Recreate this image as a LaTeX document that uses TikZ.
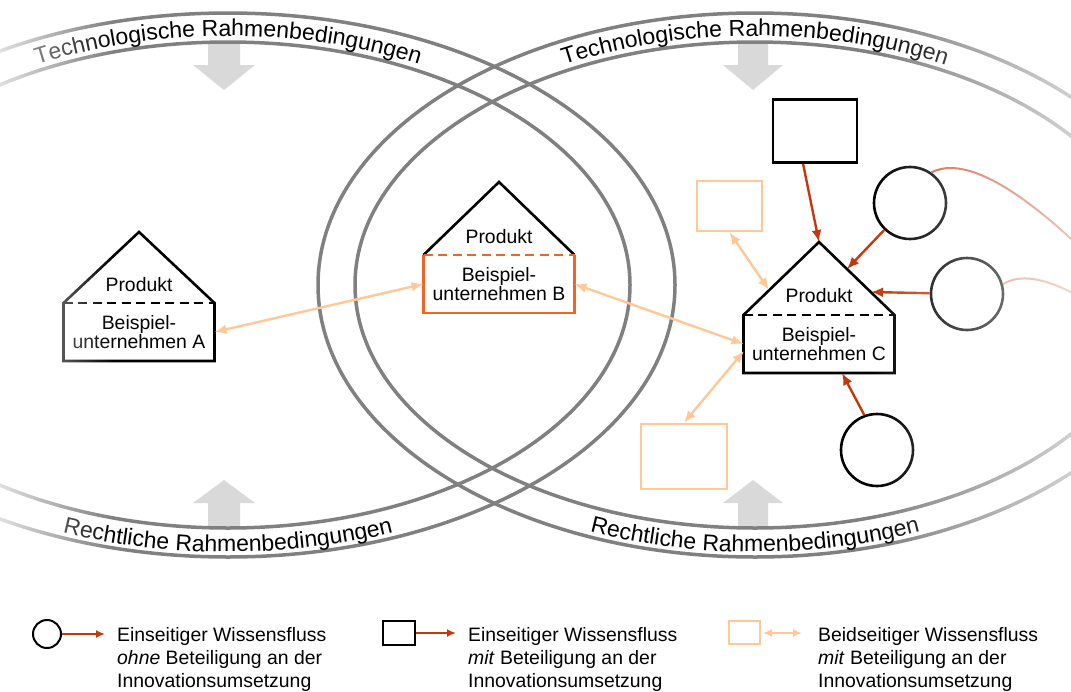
\documentclass[tikz,border=0pt]{standalone}
\usepackage{fontspec}
\setmainfont{Liberation Sans}
\usetikzlibrary{arrows.meta,decorations.text,fadings}
\definecolor{flowred}{RGB}{197,55,12}
\definecolor{lightorange}{RGB}{255,200,150}
\definecolor{firmorange}{RGB}{240,100,40}
\definecolor{bandgray}{RGB}{128,128,128}
\definecolor{blockgray}{RGB}{217,217,217}
\newcommand\bandfont{\fontsize{23}{28}\selectfont}
\newcommand\boxfont{\fontsize{19.4}{19.5}\selectfont}
\newcommand\legendfont{\fontsize{19.4}{23}\selectfont}
\tikzset{>={Latex[length=12pt,width=10pt]}}
\tikzset{
  bandline/.style={draw=bandgray,line width=3.5pt},
  bandtext/.style={decorate,decoration={text along path,text align=center,text={|\bandfont|#1}}},
  housewall/.style={line width=2.6pt,line cap=rect},
  housebody/.style={minimum width=151pt,minimum height=58pt,inner sep=0pt,outer sep=0pt,align=center,font=\boxfont},
  rooftext/.style={inner sep=0pt,font=\boxfont},
  knowbox/.style={draw,line width=2.6pt,minimum width=84pt,minimum height=63pt,inner sep=0pt},
  partnerbox/.style={draw=lightorange,line width=2.6pt,inner sep=0pt},
  source/.style={draw,circle,line width=2.6pt,minimum size=72pt,inner sep=0pt},
  legendtext/.style={anchor=west,align=left,inner sep=0pt,font=\legendfont}
}
\begin{document}
\begin{tikzpicture}[x=1pt,y=-1pt]
\useasboundingbox (0,0) rectangle (1071,691);

% grey arrows
\fill[blockgray] (208,41) -- (240,41) -- (240,65) -- (255,65) -- (224,90) -- (193,65) -- (208,65) -- cycle;
\fill[blockgray] (738,41) -- (768,41) -- (768,65) -- (783,65) -- (753,90) -- (723,65) -- (738,65) -- cycle;
\fill[blockgray] (208,528) -- (240,528) -- (240,503) -- (255,503) -- (224,480) -- (193,503) -- (208,503) -- cycle;
\fill[blockgray] (738,528) -- (768,528) -- (768,503) -- (783,503) -- (753,480) -- (723,503) -- (738,503) -- cycle;

% bands
\draw[bandline] (228,285) ellipse [x radius=447,y radius=272];
\draw[bandline] (228,285) ellipse [x radius=402,y radius=243];
\draw[bandline] (755,285) ellipse [x radius=437,y radius=272];
\draw[bandline] (755,285) ellipse [x radius=400,y radius=243];

\path[bandtext={Technologische Rahmenbedingungen}] (-183,285) arc[start angle=180,end angle=360,x radius=411,y radius=249];
\path[bandtext={Technologische Rahmenbedingungen}] (348,285) arc[start angle=180,end angle=360,x radius=407,y radius=249];
\path[bandtext={Rechtliche Rahmenbedingungen}] (-211,285) arc[start angle=180,end angle=0,x radius=439,y radius=267];
\path[bandtext={Rechtliche Rahmenbedingungen}] (324,285) arc[start angle=180,end angle=0,x radius=431,y radius=267];

% houses
\begin{scope}[every node/.style={housebody}]
\node (A) at (139,332) {Beispiel-\\unternehmen A};
\node (B) at (499,284) {Beispiel-\\unternehmen B};
\node (C) at (819,344) {Beispiel-\\unternehmen C};
\end{scope}
\coordinate (Atop) at (139,232);
\coordinate (Btop) at (499,182);
\coordinate (Ctop) at (819,242);
\node[rooftext] (Ap) at (139,285) {Produkt};
\node[rooftext] (Bp) at (499,237) {Produkt};
\node[rooftext] (Cp) at (819,296) {Produkt};

\draw[housewall] (A.south east) -- (A.north east) -- (Atop) -- (A.north west) -- (A.south west) -- (A.south east);
\draw[housewall,line cap=butt,dash pattern=on 9pt off 5.5pt] (A.north west) -- (A.north east);
\draw[housewall,line cap=butt] (B.north west) -- (Btop) -- (B.north east);
\draw[housewall,firmorange,line cap=butt] (B.north east) -- (B.south east) -- (B.south west) -- (B.north west);
\draw[housewall,firmorange,line cap=butt,dash pattern=on 9pt off 5.5pt] (B.north west) -- (B.north east);
\draw[housewall] (C.south east) -- (C.north east) -- (Ctop) -- (C.north west) -- (C.south west) -- (C.south east);
\draw[housewall,line cap=butt,dash pattern=on 9pt off 5.5pt] (C.north west) -- (C.north east);

% knowledge sources
\node[knowbox] (K1) at (815,131) {};
\node[partnerbox,minimum width=65pt,minimum height=50pt] (L1) at (729.5,206) {};
\node[partnerbox,minimum width=86pt,minimum height=65pt] (L2) at (684,456.5) {};
\node[source] (S1) at (910,203) {};
\node[source] (S2) at (967,294) {};
\node[source] (S3) at (877,450) {};

\coordinate (cr1) at (847,269);
\coordinate (cr2) at (871,292);
\coordinate (cb3) at (842,373);
\coordinate (cl1) at (769,290);
\coordinate (cl2) at (744,351);
\coordinate (far1) at (1085,252);
\coordinate (far2) at (1085,300);

\begin{scope}[every edge/.style={draw=flowred,line width=2.4pt}]
\path [->] (K1.250) edge (Ctop);
\path [->] (S1) edge (cr1);
\path [->] (S2) edge (cr2);
\path [->] (S3.110) edge (cb3);
\end{scope}
\begin{scope}[every edge/.style={draw=lightorange,line width=2.4pt}]
\path [<->] (A.east) edge (B.west);
\path [<->] (B.east) edge (C.west);
\path [<->] (L1.south) edge (cl1);
\path [<->] (L2.north) edge (cl2);
\end{scope}
\draw[flowred!80!white,line width=2pt] (S1.55) .. controls (955,160) and (1000,170) .. (far1);
\draw[flowred!55!white,line width=2pt] (S2.15) .. controls (1018,274) and (1045,276) .. (far2);

% fade out at the sides
\fill[white,path fading=east] (-38,-5) rectangle (113,585);
\fill[white,path fading=west] (870,-5) rectangle (1190,585);

% legend
\node[source,minimum size=28pt,line width=2pt] (lg1) at (47,634) {};
\node[knowbox,minimum width=32pt,minimum height=24pt,line width=2pt] (lg2) at (399,633) {};
\node[partnerbox,minimum width=31pt,minimum height=23pt,line width=2pt] (lg3) at (744.5,632.5) {};
\coordinate (lg1e) at (105,634);
\coordinate (lg2e) at (456,633);
\coordinate (lg3s) at (763,633);
\coordinate (lg3e) at (802,633);
\begin{scope}[>={Latex[length=9pt,width=8pt]},every edge/.style={draw,line width=2pt}]
\path [->] (lg1) edge [flowred] (lg1e);
\path [->] (lg2) edge [flowred] (lg2e);
\path [<->] (lg3s) edge [lightorange] (lg3e);
\end{scope}
\node[legendtext] (lt1) at (117,659) {Einseitiger Wissensfluss\\\textit{ohne} Beteiligung an der\\Innovationsumsetzung};
\node[legendtext] (lt2) at (468,659) {Einseitiger Wissensfluss\\\textit{mit} Beteiligung an der\\Innovationsumsetzung};
\node[legendtext] (lt3) at (818,659) {Beidseitiger Wissensfluss\\\textit{mit} Beteiligung an der\\Innovationsumsetzung};
\end{tikzpicture}
\end{document}
